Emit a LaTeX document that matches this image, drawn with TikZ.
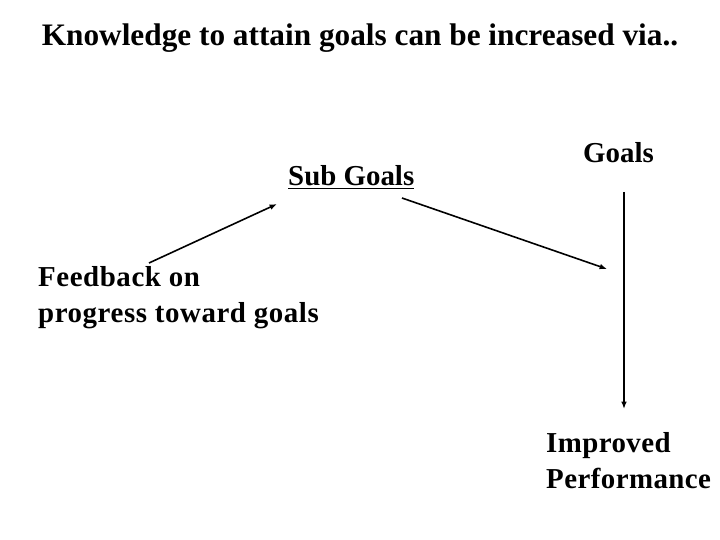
\documentclass[tikz,border=0pt]{standalone}
\usepackage{fontspec}
\setmainfont{Liberation Serif}
\usepackage{tikz}
\usetikzlibrary{arrows.meta, positioning, calc}

\newcommand{\spaced}[2]{{\addfontfeature{LetterSpace=#1}#2}}

\begin{document}
\begin{tikzpicture}[
                x=1bp, y=-1bp,
                label/.style={inner sep=0pt, anchor=base west, align=left, font=\fontsize{29}{36}\selectfont\bfseries},
                heading/.style={inner sep=0pt, anchor=base, font=\fontsize{31.4}{36}\selectfont\bfseries},
                link/.style={line width=1.6pt, -{Latex[length=2.6mm, width=2mm]}}
            ]
                \useasboundingbox[fill=white] (0,0) rectangle (720,540);

                % Title
                \node[heading] (title) at (360,46) {Knowledge to attain goals can be increased via..};

                % Labels
                \node[label] (sub) at (288,186) {\underline{Sub Goals}};
                \node[label] (goals) at (583,163) {Goals};
                \node[label] (fb) at (38,322) {\spaced{2}{Feedback on}\\\spaced{2}{progress toward goals}};
                \node[label] (perf) at (546,488) {\spaced{1.5}{Improved}\\\spaced{1.5}{Performance}};

                % Arrow ends
                \coordinate (fbtop) at (149,263);
                \coordinate (subin) at (277,204);
                \coordinate (subout) at (402,198);
                \coordinate (goalsin) at (607,269);
                \coordinate (goalsout) at (624,192);
                \coordinate (perfin) at (624,409);

                % Arrows
                \draw[link] (fbtop) -- (subin);
                \draw[link] (subout) -- (goalsin);
                \draw[link] (goalsout) -- (perfin);
            \end{tikzpicture}
\end{document}
